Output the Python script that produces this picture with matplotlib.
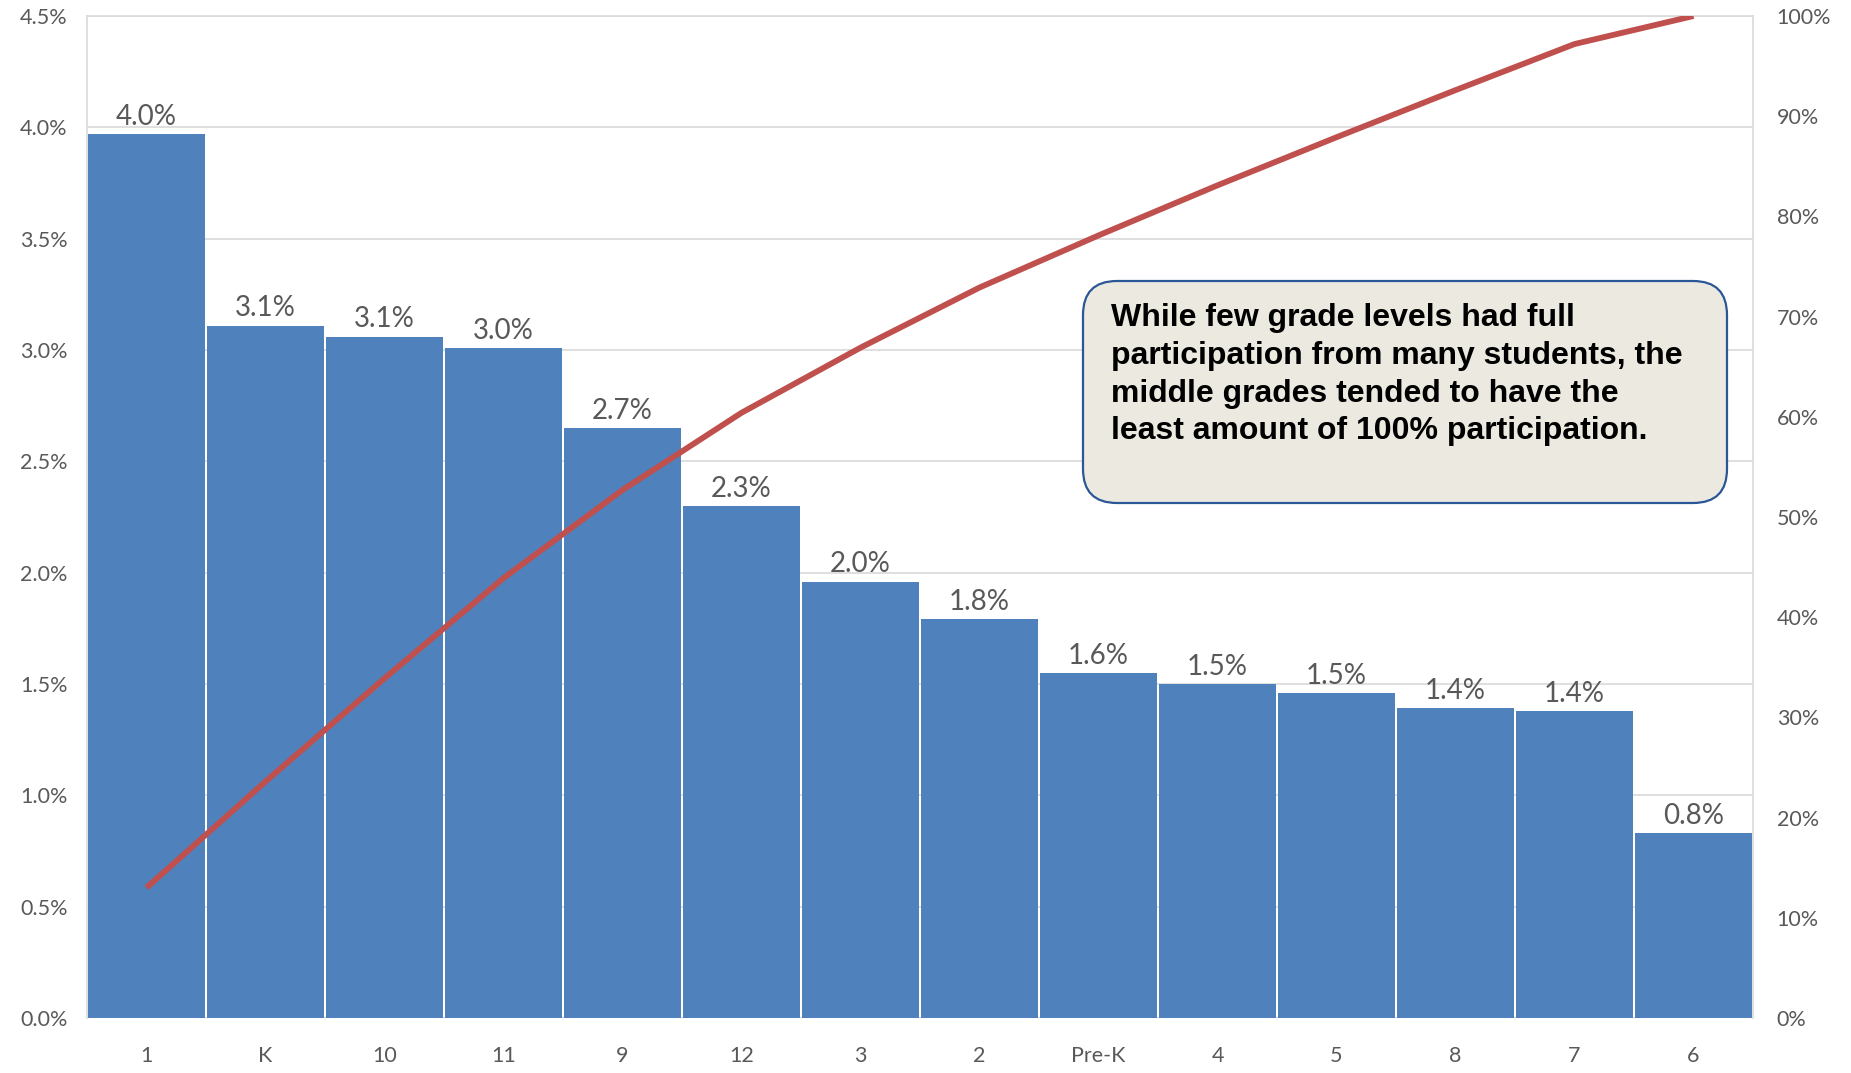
import matplotlib
matplotlib.use("Agg")
import matplotlib.pyplot as plt
from matplotlib.patches import FancyBboxPatch
from matplotlib.transforms import IdentityTransform
from matplotlib.ticker import FuncFormatter, MultipleLocator

# ---- data ----
grades = ["1", "K", "10", "11", "9", "12", "3", "2", "Pre-K", "4", "5", "8", "7", "6"]
share_pct = [3.97, 3.11, 3.06, 3.01, 2.65, 2.30, 1.96, 1.79, 1.55, 1.50, 1.46, 1.39, 1.38, 0.83]
share_labels = ["4.0%", "3.1%", "3.1%", "3.0%", "2.7%", "2.3%", "2.0%", "1.8%",
                "1.6%", "1.5%", "1.5%", "1.4%", "1.4%", "0.8%"]
cumulative_pct = [13.0, 23.6, 33.9, 43.9, 52.7, 60.4, 66.9, 72.9, 78.1, 83.1, 87.9, 92.6, 97.2, 100.0]
note = ("While few grade levels had full\n"
        "participation from many students, the\n"
        "middle grades tended to have the\n"
        "least amount of 100% participation.")

W, H, DPI = 1851, 1073, 100
fig = plt.figure(figsize=(W / DPI, H / DPI), dpi=DPI)
fig.patch.set_facecolor("white")

L, R, T, B = 87, 1753, 16, 1018
ax = fig.add_axes([L / W, 1 - B / H, (R - L) / W, (B - T) / H])

tick_font = ["Lato", "DejaVu Sans"]
gray = "#595959"
grid_c = "#DCDCDC"

x = list(range(len(grades)))
ax.bar(x, share_pct, width=0.975, color="#4F81BD", zorder=2)
ax.set_xlim(-0.5, len(grades) - 0.5)
ax.set_ylim(0, 4.5)
ax.yaxis.set_major_locator(MultipleLocator(0.5))
ax.yaxis.set_major_formatter(FuncFormatter(lambda v, p: f"{v:.1f}%"))
ax.grid(axis="y", color=grid_c, linewidth=1.3, zorder=0)
ax.set_axisbelow(True)
ax.set_xticks(x)
ax.set_xticklabels(grades)
for s in ["left", "top", "right"]:
    ax.spines[s].set_color(grid_c)
    ax.spines[s].set_linewidth(1.3)
ax.spines["bottom"].set_visible(False)
ax.tick_params(axis="both", length=0, colors=gray, labelsize=15.5)
ax.tick_params(axis="y", pad=14)
ax.tick_params(axis="x", pad=20)
for lab in ax.get_xticklabels() + ax.get_yticklabels():
    lab.set_family(tick_font)

for xi, v, s in zip(x, share_pct, share_labels):
    ax.annotate(s, (xi, v), xytext=(0, 3), textcoords="offset points",
                ha="center", va="bottom", fontsize=20, color=gray, family=tick_font)

ax2 = ax.twinx()
ax2.plot(x, cumulative_pct, color="#C0504D", linewidth=4.2, solid_capstyle="butt", zorder=3)
ax2.set_ylim(0, 100)
ax2.yaxis.set_major_locator(MultipleLocator(10))
ax2.yaxis.set_major_formatter(FuncFormatter(lambda v, p: f"{v:.0f}%"))
ax2.tick_params(axis="y", length=0, colors=gray, labelsize=15.5, pad=17)
for lab in ax2.get_yticklabels():
    lab.set_family(tick_font)
for s in ax2.spines.values():
    s.set_visible(False)

# annotation box (pixel coordinates)
bx0, by0, bx1, by1 = 1083, 281, 1727, 503
box = FancyBboxPatch((bx0, H - by1), bx1 - bx0, by1 - by0,
                     boxstyle="round,pad=0,rounding_size=34",
                     facecolor="#ECEAE0", edgecolor="#2B5797", linewidth=1.6,
                     transform=IdentityTransform(), zorder=10)
fig.patches.append(box)
box.set_figure(fig)
fig.text(1111 / W, 1 - 303 / H, note, ha="left", va="top",
         fontsize=23, fontweight="bold", color="black", linespacing=1.34,
         family=["Liberation Sans", "DejaVu Sans"], zorder=11)

fig.savefig("out.png", dpi=DPI)
